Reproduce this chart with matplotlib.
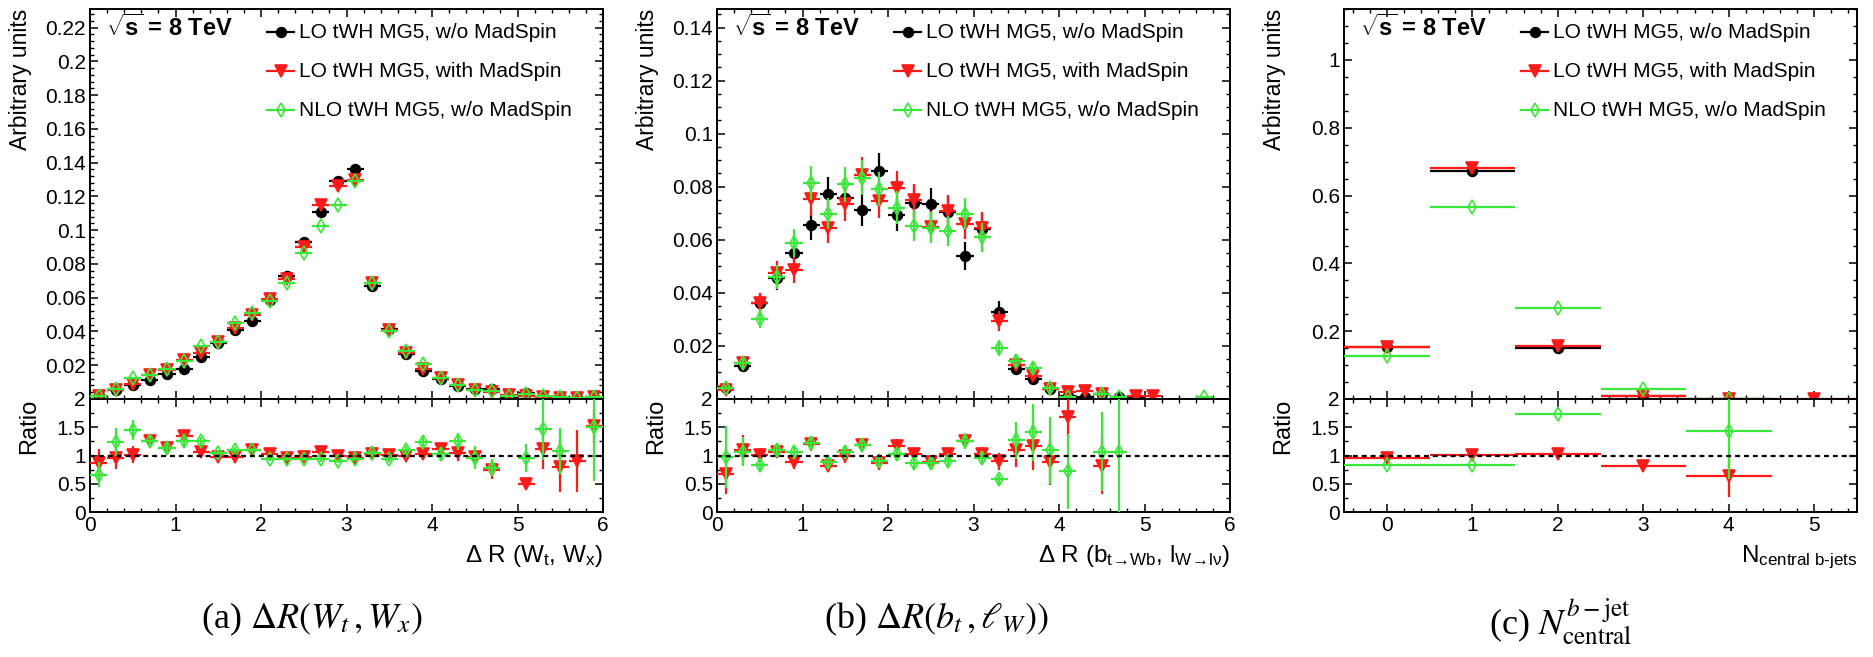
import numpy as np
import matplotlib
matplotlib.use("Agg")
import matplotlib.pyplot as plt
from matplotlib.ticker import MultipleLocator, FixedLocator, FuncFormatter

plt.rcParams['font.family'] = ['Liberation Sans', 'DejaVu Sans']
plt.rcParams['mathtext.fontset'] = 'custom'
plt.rcParams['mathtext.rm'] = 'Liberation Sans'
plt.rcParams['mathtext.it'] = 'Liberation Sans:italic'
plt.rcParams['mathtext.bf'] = 'Liberation Sans:bold'
plt.rcParams['mathtext.sf'] = 'Liberation Sans'

nan = np.nan

# ---- data ----
labels = ["LO tWH MG5, w/o MadSpin", "LO tWH MG5, with MadSpin", "NLO tWH MG5, w/o MadSpin"]

# (a) Delta R(W_t, W_x), bins of 0.2 from 0 to 6
dr_a = np.round(np.arange(0.1, 6.0, 0.2), 1)
black_a = [0.0020, 0.0053, 0.0080, 0.0110, 0.0148, 0.0177, 0.0250, 0.0330, 0.0410, 0.0463,
           0.0585, 0.0727, 0.0928, 0.1105, 0.1293, 0.1360, 0.0672, 0.0412, 0.0266, 0.0167,
           0.0116, 0.0079, 0.0057, 0.0057, 0.0003, 0.0033, 0.0010, 0.0010, 0.0008, 0.0008]
red_a = [0.0020, 0.0055, 0.0088, 0.0143, 0.0170, 0.0230, 0.0270, 0.0335, 0.0420, 0.0500,
         0.0595, 0.0710, 0.0900, 0.1150, 0.1260, 0.1300, 0.0690, 0.0410, 0.0270, 0.0180,
         0.0125, 0.0085, 0.0055, 0.0043, 0.0022, 0.0017, 0.0011, 0.0008, 0.0007, 0.0012]
green_a = [0.0020, 0.0060, 0.0125, 0.0145, 0.0180, 0.0225, 0.0315, 0.0340, 0.0450, 0.0510,
           0.0580, 0.0690, 0.0865, 0.1025, 0.1150, 0.1290, 0.0690, 0.0400, 0.0285, 0.0210,
           0.0125, 0.0085, 0.0055, 0.0045, 0.0015, 0.0031, 0.0015, 0.0010, 0.0006, 0.0012]
ratio_red_a = [0.86, 0.96, 1.01, 1.26, 1.13, 1.34, 1.06, 0.97, 0.97, 1.09,
               1.03, 0.96, 0.97, 1.06, 1.00, 0.96, 1.03, 1.01, 0.99, 1.02,
               1.12, 1.05, 0.97, 0.75, nan, 0.50, 1.11, 0.80, 0.90, 1.52]
ratio_red_a_err = [0.25, 0.20, 0.15, 0.10, 0.08, 0.07, 0.06, 0.05, 0.05, 0.05,
                   0.04, 0.04, 0.04, 0.04, 0.04, 0.04, 0.05, 0.05, 0.06, 0.07,
                   0.09, 0.14, 0.15, 0.17, nan, 0.10, 0.35, 0.45, 0.55, 0.30]
ratio_green_a = [0.66, 1.24, 1.45, 1.26, 1.13, 1.25, 1.25, 1.04, 1.10, 1.09,
                 0.94, 0.94, 0.94, 0.93, 0.90, 0.94, 1.04, 0.94, 1.10, 1.24,
                 1.03, 1.25, 0.96, 0.78, nan, 0.95, 1.47, 1.08, nan, 1.50]
ratio_green_a_err = [0.22, 0.25, 0.17, 0.12, 0.10, 0.08, 0.07, 0.05, 0.05, 0.05,
                     0.04, 0.04, 0.04, 0.04, 0.04, 0.04, 0.05, 0.05, 0.07, 0.10,
                     0.12, 0.15, 0.20, 0.15, nan, 0.25, 0.55, 0.40, nan, 0.95]

# (b) Delta R(b_t, l_W)
dr_b = np.round(np.arange(0.1, 6.0, 0.2), 1)
black_b = [0.0043, 0.0125, 0.0360, 0.0455, 0.0550, 0.0656, 0.0774, 0.0756, 0.0713, 0.0861,
           0.0693, 0.0740, 0.0734, 0.0706, 0.0540, 0.0640, 0.0328, 0.0113, 0.0075, 0.0036,
           0.0013, 0.0009, 0.0020, 0.0006, 0.0002, nan, nan, nan, nan, nan]
black_b_err = [0.0010, 0.0015, 0.0040, 0.0045, 0.0050, 0.0058, 0.0062, 0.0062, 0.0060, 0.0065,
               0.0060, 0.0062, 0.0062, 0.0060, 0.0052, 0.0057, 0.0040, 0.0022, 0.0018, 0.0012,
               0.0008, 0.0006, 0.0009, 0.0005, 0.0003, nan, nan, nan, nan, nan]
red_b = [0.0034, 0.0134, 0.0360, 0.0474, 0.0486, 0.0753, 0.0646, 0.0734, 0.0846, 0.0746,
         0.0796, 0.0749, 0.0649, 0.0709, 0.0661, 0.0646, 0.0294, 0.0128, 0.0088, 0.0036,
         0.0028, 0.0031, 0.0020, nan, 0.0013, 0.0013, nan, nan, nan, nan]
red_b_err = [0.0010, 0.0017, 0.0040, 0.0047, 0.0050, 0.0062, 0.0058, 0.0062, 0.0065, 0.0062,
             0.0063, 0.0062, 0.0058, 0.0060, 0.0058, 0.0058, 0.0038, 0.0024, 0.0020, 0.0012,
             0.0010, 0.0011, 0.0009, nan, 0.0007, 0.0007, nan, nan, nan, nan]
green_b = [0.0043, 0.0134, 0.0303, 0.0461, 0.0588, 0.0815, 0.0699, 0.0809, 0.0834, 0.0790,
           0.0721, 0.0653, 0.0645, 0.0634, 0.0699, 0.0609, 0.0193, 0.0144, 0.0115, 0.0040,
           0.0009, nan, 0.0020, 0.0006, nan, nan, nan, nan, 0.0006, nan]
green_b_err = [0.0010, 0.0017, 0.0036, 0.0045, 0.0052, 0.0065, 0.0060, 0.0065, 0.0066, 0.0064,
               0.0062, 0.0058, 0.0058, 0.0057, 0.0060, 0.0056, 0.0030, 0.0025, 0.0022, 0.0012,
               0.0006, nan, 0.0009, 0.0005, nan, nan, nan, nan, 0.0005, nan]
ratio_red_b = [0.68, 1.10, 1.01, 1.07, 0.88, 1.20, 0.82, 0.99, 1.19, 0.87,
               1.17, 1.02, 0.88, 1.02, 1.25, 1.03, 0.90, 1.10, 1.16, 0.88,
               1.69, nan, 0.82, nan, nan, nan, nan, nan, nan, nan]
ratio_red_b_err = [0.37, 0.27, 0.12, 0.12, 0.12, 0.12, 0.12, 0.12, 0.12, 0.12,
                   0.12, 0.12, 0.12, 0.12, 0.14, 0.12, 0.15, 0.30, 0.42, 0.40,
                   0.35, nan, 0.50, nan, nan, nan, nan, nan, nan, nan]
ratio_green_b = [0.97, 1.07, 0.83, 1.09, 1.07, 1.22, 0.88, 1.07, 1.19, 0.91,
                 1.03, 0.87, 0.87, 0.90, 1.25, 0.96, 0.58, 1.27, 1.41, 1.09,
                 0.72, nan, 1.07, 1.07, nan, nan, nan, nan, nan, nan]
ratio_green_b_err = [0.55, 0.25, 0.12, 0.12, 0.12, 0.12, 0.12, 0.12, 0.12, 0.12,
                     0.12, 0.12, 0.12, 0.12, 0.14, 0.12, 0.08, 0.33, 0.50, 0.60,
                     0.66, nan, 0.70, 1.10, nan, nan, nan, nan, nan, nan]

# (c) number of central b-jets
nbjets = [0, 1, 2, 3, 4, 5]
black_c = [0.153, 0.672, 0.150, 0.009, 0.0005, nan]
red_c = [0.152, 0.680, 0.157, 0.009, 0.0005, 0.0005]
green_c = [0.126, 0.567, 0.267, 0.029, 0.001, nan]
ratio_red_c = [0.96, 1.015, 1.03, 0.82, 0.63, nan]
ratio_red_c_err = [0.02, 0.01, 0.02, 0.08, 0.37, nan]
ratio_green_c = [0.83, 0.83, 1.73, nan, 1.44, nan]
ratio_green_c_err = [0.02, 0.01, 0.02, nan, 0.85, nan]

BLACK = 'black'
RED = '#ff1a1a'
GREEN = '#3ae83a'
styles = [
    dict(color=BLACK, marker='o', mfc=BLACK, ms=7),
    dict(color=RED, marker='v', mfc=RED, ms=8),
    dict(color=GREEN, marker='d', mfc='none', ms=7.5),
]

W, H = 1873, 657
fig = plt.figure(figsize=(W / 100, H / 100), dpi=100)

lefts = [90, 717, 1344]
width = 513
main_top, split, ratio_bot = 9, 399, 512
fmt = FuncFormatter(lambda v, p: '%g' % round(v, 4))


def px_axes(left, top, bottom):
    return fig.add_axes([left / W, (H - bottom) / H, width / W, (bottom - top) / H])


def style_axes(ax, tick_size):
    for s in ax.spines.values():
        s.set_linewidth(1.4)
    ax.tick_params(which='both', direction='in', top=True, right=True, labelsize=tick_size, pad=3)
    ax.tick_params(which='major', length=6, width=1.1)
    ax.tick_params(which='minor', length=3, width=1.0)


def draw(ax, x, y, yerr, xw, st, z):
    ax.errorbar(x, y, yerr=yerr, xerr=xw, fmt=st['marker'], color=st['color'],
                mfc=st['mfc'], mec=st['color'], ms=st['ms'], mew=1.2,
                elinewidth=1.6, capsize=0, zorder=z)


panels = [
    dict(x=dr_a, main=[black_a, red_a, green_a], err=[None, None, None],
         ratio=[ratio_red_a, ratio_green_a], rerr=[ratio_red_a_err, ratio_green_a_err],
         xw=0.1, xlim=(0, 6), ylim=(0, 0.231), yt=np.arange(0.02, 0.225, 0.02), ymin=0.004,
         xlabel=r"$\Delta$ R (W$_{\mathrm{t}}$, W$_{\mathrm{x}}$)",
         caption=r"(a) $\Delta R(W_t\,,W_x)$", cy=628),
    dict(x=dr_b, main=[black_b, red_b, green_b], err=[black_b_err, red_b_err, green_b_err],
         ratio=[ratio_red_b, ratio_green_b], rerr=[ratio_red_b_err, ratio_green_b_err],
         xw=0.1, xlim=(0, 6), ylim=(0, 0.147), yt=np.arange(0.02, 0.145, 0.02), ymin=0.005,
         xlabel=r"$\Delta$ R (b$_{\mathrm{t\!\rightarrow\!Wb}}$, l$_{\mathrm{W\!\rightarrow\!l\nu}}$)",
         caption=r"(b) $\Delta R(b_t\,,\ell_W))$", cy=628),
    dict(x=nbjets, main=[black_c, red_c, green_c], err=[None, None, None],
         ratio=[ratio_red_c, ratio_green_c], rerr=[ratio_red_c_err, ratio_green_c_err],
         xw=0.5, xlim=(-0.5, 5.5), ylim=(0, 1.15), yt=np.arange(0.2, 1.05, 0.2), ymin=0.05,
         xlabel=r"N$_{\mathrm{central\ b\text{-}jets}}$",
         caption=r"(c) $N^{b-\mathrm{jet}}_{\mathrm{central}}$", cy=635),
]

for i, p in enumerate(panels):
    left = lefts[i]
    ax = px_axes(left, main_top, split)
    axr = px_axes(left, split, ratio_bot)

    for k in range(3):
        draw(ax, p['x'], p['main'][k], p['err'][k], p['xw'], styles[k], 3 + k)
    for k in range(2):
        draw(axr, p['x'], p['ratio'][k], p['rerr'][k], p['xw'], styles[k + 1], 3 + k)
    axr.axhline(1.0, color='black', ls=(0, (2.2, 1.8)), lw=1.6, zorder=6)

    for a in (ax, axr):
        a.set_xlim(*p['xlim'])
        style_axes(a, 15)
        a.xaxis.set_major_locator(MultipleLocator(1))
        a.xaxis.set_minor_locator(MultipleLocator(0.2))
    ax.set_ylim(*p['ylim'])
    ax.yaxis.set_major_locator(FixedLocator(p['yt']))
    ax.yaxis.set_minor_locator(MultipleLocator(p['ymin']))
    ax.yaxis.set_major_formatter(fmt)
    ax.tick_params(labelbottom=False)
    axr.set_ylim(0, 2)
    axr.yaxis.set_major_locator(MultipleLocator(0.5))
    axr.yaxis.set_minor_locator(MultipleLocator(0.25))
    axr.yaxis.set_major_formatter(fmt)

    ax.text(-0.135, 1.0, "Arbitrary units", transform=ax.transAxes, rotation=90,
            ha='center', va='top', fontsize=16.5)
    axr.text(-0.118, 1.0, "Ratio", transform=axr.transAxes, rotation=90,
             ha='center', va='top', fontsize=17)
    axr.text(1.0, -0.44, p['xlabel'], transform=axr.transAxes, ha='right',
             va='baseline', fontsize=17.5)

    ax.text(0.031, 0.951, r"$\sqrt{\mathbf{s}}$ = 8 TeV", transform=ax.transAxes,
            ha='left', va='center', fontsize=17, fontweight='bold')
    for k in range(3):
        yy = 0.941 - 0.1 * k
        st = styles[k]
        ax.plot([0.345, 0.398], [yy, yy], transform=ax.transAxes, color=st['color'], lw=1.6)
        ax.plot([0.372], [yy], transform=ax.transAxes, marker=st['marker'], color=st['color'],
                mfc=st['mfc'], mec=st['color'], ms=st['ms'], mew=1.2)
        ax.text(0.408, yy, labels[k], transform=ax.transAxes, ha='left', va='center',
                fontsize=15)

    fig.text((i + 0.5) / 3, (H - p['cy']) / H, p['caption'], ha='center', va='baseline',
             fontsize=26, family='Liberation Serif', math_fontfamily='stix')

fig.savefig("out.png", dpi=100)
